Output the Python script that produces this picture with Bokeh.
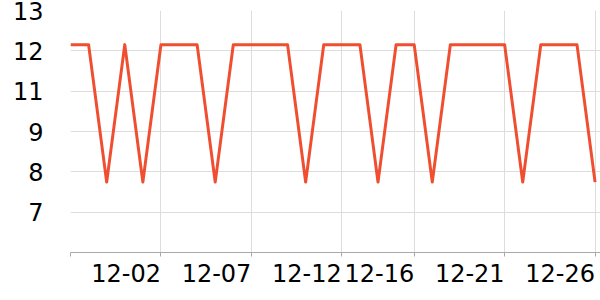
from bokeh.plotting import figure
from bokeh.models import Range1d, FixedTicker, NumeralTickFormatter
from bokeh.embed import file_html
from bokeh.resources import INLINE

# 30 consecutive days, 11-27 .. 12-26
dates = ["11-27", "11-28", "11-29", "11-30", "12-01", "12-02", "12-03", "12-04",
         "12-05", "12-06", "12-07", "12-08", "12-09", "12-10", "12-11", "12-12",
         "12-13", "12-14", "12-15", "12-16", "12-17", "12-18", "12-19", "12-20",
         "12-21", "12-22", "12-23", "12-24", "12-25", "12-26"]
values = [12.1, 12.1, 7.67, 12.1, 7.67, 12.1, 12.1, 12.1, 7.67, 12.1,
          12.1, 12.1, 12.1, 7.67, 12.1, 12.1, 12.1, 7.67, 12.1, 12.1,
          7.67, 12.1, 12.1, 12.1, 12.1, 7.67, 12.1, 12.1, 12.1, 7.67]
x_tick_dates = ["11-27", "12-02", "12-07", "12-12", "12-16", "12-21", "12-26"]
y_ticks = [6.7, 8.0, 9.3, 10.6, 11.9, 13.2]
y_min = 5.4

xs = list(range(len(dates)))
x_ticks = [dates.index(d) for d in x_tick_dates]

p = figure(width=600, height=300, output_backend="svg", toolbar_location=None,
           x_range=Range1d(0, len(dates) - 1 + 0.3),
           y_range=Range1d(y_min, y_ticks[-1]),
           min_border_left=70, min_border_right=0, min_border_top=10,
           min_border_bottom=48)
p.outline_line_color = None
p.background_fill_color = "white"
p.border_fill_color = "white"

p.line(xs, values, line_color="#f04e30", line_width=3, line_join="round")

font = "DejaVu Sans"
fsize = "24px"
xa = p.xaxis[0]
xa.ticker = FixedTicker(ticks=x_ticks)
xa.major_label_overrides = {i: ("" if i == 0 else dates[i]) for i in x_ticks}
xa.major_label_orientation = 0.0001
xa.major_label_text_font = font
xa.major_label_text_font_size = fsize
xa.major_label_text_color = "#000000"
xa.major_label_standoff = 16
xa.axis_line_color = "#aaaaaa"
xa.major_tick_line_color = "#aaaaaa"
xa.major_tick_out = 4
xa.major_tick_in = 0
xa.minor_tick_line_color = None

ya = p.yaxis[0]
ya.ticker = FixedTicker(ticks=y_ticks)
ya.formatter = NumeralTickFormatter(format="0")
ya.major_label_text_font = font
ya.major_label_text_font_size = fsize
ya.major_label_text_color = "#000000"
ya.major_label_standoff = 27
ya.major_tick_out = 0
ya.major_tick_in = 0
ya.axis_line_color = None
ya.major_tick_line_color = None
ya.minor_tick_line_color = None

p.xgrid.grid_line_color = "#dddddd"
p.ygrid.grid_line_color = "#dddddd"
p.xgrid.ticker = FixedTicker(ticks=x_ticks)
p.ygrid.ticker = FixedTicker(ticks=y_ticks)

open("out.html", "w").write(file_html(p, INLINE))
